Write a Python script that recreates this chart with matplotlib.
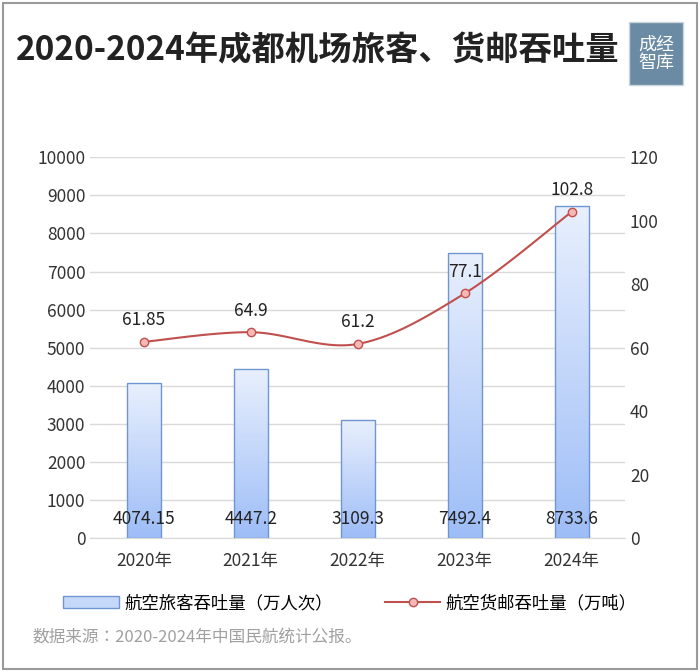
import numpy as np
import matplotlib.pyplot as plt
from matplotlib import font_manager
from matplotlib.patches import Rectangle
from matplotlib.lines import Line2D
from matplotlib.colors import LinearSegmentedColormap

cjk = sorted({f.name for f in font_manager.fontManager.ttflist if 'CJK' in f.name})
cjk_pref = [n for n in cjk if 'SC' in n] + cjk
plt.rcParams['font.family'] = 'sans-serif'
plt.rcParams['font.sans-serif'] = cjk_pref + ['DejaVu Sans']

years = ['2020年', '2021年', '2022年', '2023年', '2024年']
passengers = [4074.15, 4447.2, 3109.3, 7492.4, 8733.6]
cargo = [61.85, 64.9, 61.2, 77.1, 102.8]
passenger_labels = ['4074.15', '4447.2', '3109.3', '7492.4', '8733.6']
cargo_labels = ['61.85', '64.9', '61.2', '77.1', '102.8']

fig = plt.figure(figsize=(7, 6.72), dpi=100)
fig.patches.append(Rectangle((0.004, 0.004), 0.992, 0.992, transform=fig.transFigure,
                             fill=False, edgecolor='#9a9a9a', linewidth=1.5))
fig.text(0.022, 0.925, '2020-2024年成都机场旅客、货邮吞吐量', fontsize=24, fontweight='bold',
         color='#222222', va='center')
# logo
fig.patches.append(Rectangle((0.899, 0.873), 0.077, 0.094, transform=fig.transFigure,
                             facecolor='#6a8ba3', edgecolor='#c8d4dc', linewidth=1))
fig.text(0.937, 0.92, '成经\n智库', color='white', fontsize=13, ha='center', va='center',
         linespacing=1.0)
fig.text(0.047, 0.052, '数据来源：2020-2024年中国民航统计公报。', fontsize=12, color='#a0a0a0',
         va='center')

ax = fig.add_axes([0.129, 0.199, 0.764, 0.567])
x = np.arange(len(years))
ax.set_xlim(-0.5, 4.5)
ax.set_ylim(0, 10000)
ax.set_yticks(range(0, 10001, 1000))
ax.grid(axis='y', color='#d9d9d9', linewidth=1)
ax.set_axisbelow(True)
for s in ['top', 'left', 'right']:
    ax.spines[s].set_visible(False)
ax.spines['bottom'].set_color('#d9d9d9')
ax.tick_params(length=0, labelsize=12.5, colors='#333333')
ax.tick_params(axis='x', pad=10)
ax.set_xticks(x)
ax.set_xticklabels(years)

grad = np.linspace(1, 0, 256).reshape(-1, 1)
cmap = LinearSegmentedColormap.from_list('g', ['#9dbdf7', '#e9f0fd'])
bw = 0.32
bars = ax.bar(x, passengers, width=bw, color='none', edgecolor='#6f96d3', linewidth=1, zorder=3)
for b in bars:
    im = ax.imshow(grad, cmap=cmap, aspect='auto', zorder=2,
                   extent=[b.get_x(), b.get_x() + bw, 0, b.get_height()])
    im.set_clip_path(b)
for xi, lab in zip(x, passenger_labels):
    ax.text(xi, 500, lab, ha='center', va='center', fontsize=12.5, color='#222222', zorder=5)

ax2 = ax.twinx()
ax2.set_ylim(0, 120)
ax2.set_yticks(range(0, 121, 20))
for s in ax2.spines.values():
    s.set_visible(False)
ax2.tick_params(length=0, labelsize=12.5, colors='#333333')

# smooth curve (Catmull-Rom) through data points
px = np.array(x, dtype=float)
py = np.array(cargo, dtype=float)
P = np.column_stack([px, py])
P = np.vstack([P[0], P, P[-1]])
cx, cy = [], []
t = np.linspace(0, 1, 30)[:, None]
for i in range(1, len(P) - 2):
    p0, p1, p2, p3 = P[i - 1], P[i], P[i + 1], P[i + 2]
    c = 0.5 * (2 * p1 + (-p0 + p2) * t + (2 * p0 - 5 * p1 + 4 * p2 - p3) * t ** 2
               + (-p0 + 3 * p1 - 3 * p2 + p3) * t ** 3)
    cx.extend(c[:, 0]); cy.extend(c[:, 1])
ax2.plot(cx, cy, color='#c0504d', linewidth=1.5, zorder=4)
ax2.plot(px, py, 'o', color='#c0504d', markerfacecolor='#f5b8b6', markersize=6, zorder=5)
for xi, yi, lab in zip(x, cargo, cargo_labels):
    ax2.text(xi, yi + 4, lab, ha='center', va='bottom', fontsize=12.5, color='#222222')

handles = [Rectangle((0, 0), 1, 1, facecolor='#c5d8fa', edgecolor='#6f96d3'),
           Line2D([], [], color='#c0504d', marker='o', markerfacecolor='#f5b8b6', markersize=6)]
fig.legend(handles, ['航空旅客吞吐量（万人次）', '航空货邮吞吐量（万吨）'], loc='center',
           bbox_to_anchor=(0.5, 0.102), ncol=2, frameon=False, fontsize=12.5,
           handlelength=3.2, columnspacing=3, handletextpad=0.3)

fig.savefig('out.png', dpi=100)
